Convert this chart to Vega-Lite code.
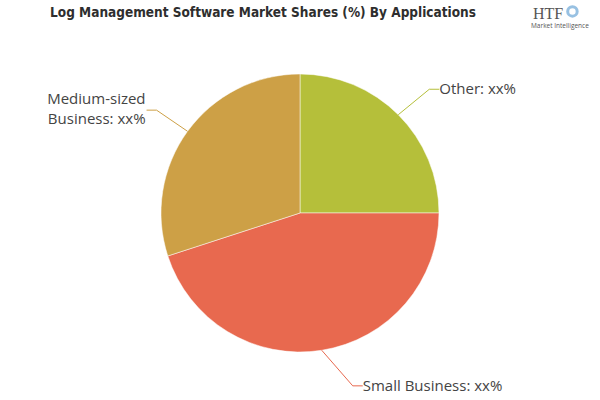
{
  "$schema": "https://vega.github.io/schema/vega-lite/v6.json",
  "width": 600,
  "height": 400,
  "autosize": {"type": "none"},
  "padding": 0,
  "background": "white",
  "config": {"view": {"stroke": null}},
  "layer": [
    {
      "data": {
        "values": [
          {"category": "Other", "label": "Other: xx%", "value": 25, "idx": 1},
          {"category": "Small Business", "label": "Small Business: xx%", "value": 45, "idx": 2},
          {"category": "Medium-sized Business", "label": "Medium-sized\nBusiness: xx%", "value": 30, "idx": 3}
        ]
      },
      "transform": [
        {"joinaggregate": [{"op": "sum", "field": "value", "as": "total"}]},
        {"window": [{"op": "sum", "field": "value", "as": "cum"}], "sort": [{"field": "idx"}], "frame": [null, 0]},
        {"calculate": "2*PI*(datum.cum - datum.value/2)/datum.total", "as": "a"},
        {"calculate": "sin(datum.a)", "as": "sx"},
        {"calculate": "cos(datum.a)", "as": "sy"},
        {"calculate": "datum.sx + (datum.sx > 0 ? 1 : -1)*31/139", "as": "ex"},
        {"calculate": "datum.sy*(1+36/139)", "as": "ey"},
        {"calculate": "datum.ex + (datum.sx > 0 ? 1 : -1)*10/139", "as": "hx"}
      ],
      "layer": [
        {
          "mark": {"type": "arc", "radius": 139, "stroke": "white", "strokeWidth": 0.5},
          "encoding": {
            "x": {"datum": 0, "type": "quantitative", "scale": {"domain": [-2.1583, 2.1583], "nice": false, "zero": false}, "axis": null},
            "y": {"datum": 0, "type": "quantitative", "scale": {"domain": [-1.3453, 1.5324], "nice": false, "zero": false}, "axis": null},
            "theta": {"field": "value", "type": "quantitative", "stack": true},
            "order": {"field": "idx", "type": "quantitative"},
            "color": {
              "field": "category",
              "type": "nominal",
              "scale": {
                "domain": ["Other", "Small Business", "Medium-sized Business"],
                "range": ["#b5bf3a", "#e8694f", "#cda046"]
              },
              "legend": null
            }
          }
        },
        {
          "mark": {"type": "rule", "strokeWidth": 1},
          "encoding": {
            "x": {"field": "sx", "type": "quantitative"},
            "y": {"field": "sy", "type": "quantitative"},
            "x2": {"field": "ex"},
            "y2": {"field": "ey"},
            "color": {"field": "category", "type": "nominal", "legend": null}
          }
        },
        {
          "mark": {"type": "rule", "strokeWidth": 1},
          "encoding": {
            "x": {"field": "ex", "type": "quantitative"},
            "y": {"field": "ey", "type": "quantitative"},
            "x2": {"field": "hx"},
            "color": {"field": "category", "type": "nominal", "legend": null}
          }
        },
        {
          "transform": [{"filter": "datum.sx > 0"}],
          "mark": {"type": "text", "align": "left", "baseline": "middle", "dx": 0, "font": "Open Sans", "fontSize": 15, "color": "#444444"},
          "encoding": {
            "x": {"field": "hx", "type": "quantitative"},
            "y": {"field": "ey", "type": "quantitative"},
            "text": {"field": "label"}
          }
        },
        {
          "transform": [{"filter": "datum.sx < 0"}],
          "mark": {"type": "text", "align": "right", "baseline": "middle", "dx": -1, "dy": -11, "lineBreak": "\n", "lineHeight": 20, "font": "Open Sans", "fontSize": 15, "color": "#444444"},
          "encoding": {
            "x": {"field": "hx", "type": "quantitative"},
            "y": {"field": "ey", "type": "quantitative"},
            "text": {"field": "label"}
          }
        }
      ]
    },
    {
      "data": {"values": [{"t": "Log Management Software Market Shares (%) By Applications"}]},
      "mark": {"type": "text", "align": "center", "baseline": "middle", "font": "DejaVu Sans Condensed", "fontWeight": "bold", "fontSize": 13.5, "color": "#2e2e2e"},
      "encoding": {
        "x": {"datum": -0.266, "type": "quantitative"},
        "y": {"datum": 1.4388, "type": "quantitative"},
        "text": {"field": "t"}
      }
    },
    {
      "data": {"values": [{"t": "HTF"}]},
      "mark": {"type": "text", "align": "left", "baseline": "middle", "font": "Liberation Serif", "fontSize": 16, "color": "#555555"},
      "encoding": {
        "x": {"datum": 1.676, "type": "quantitative"},
        "y": {"datum": 1.432, "type": "quantitative"},
        "text": {"field": "t"}
      }
    },
    {
      "data": {"values": [{"t": "Market Intelligence"}]},
      "mark": {"type": "text", "align": "left", "baseline": "middle", "font": "Open Sans", "fontSize": 6.5, "color": "#555555"},
      "encoding": {
        "x": {"datum": 1.662, "type": "quantitative"},
        "y": {"datum": 1.345, "type": "quantitative"},
        "text": {"field": "t"}
      }
    },
    {
      "data": {"values": [{"t": "icon"}]},
      "mark": {"type": "point", "shape": "circle", "filled": false, "size": 90, "strokeWidth": 3, "color": "#7fb2dc", "opacity": 0.8},
      "encoding": {
        "x": {"datum": 1.96, "type": "quantitative"},
        "y": {"datum": 1.45, "type": "quantitative"}
      }
    }
  ]
}
